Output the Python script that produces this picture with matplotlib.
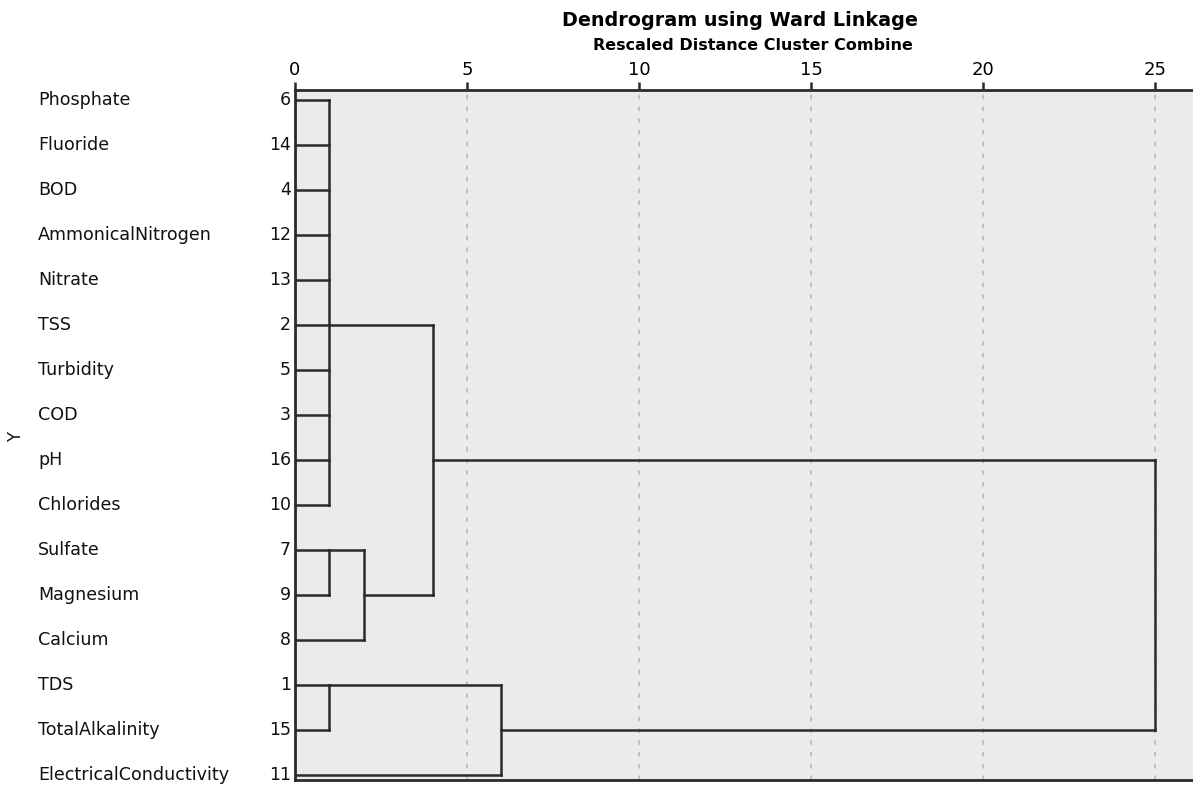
import matplotlib.pyplot as plt

# leaf order top to bottom
labels = ["Phosphate", "Fluoride", "BOD", "AmmonicalNitrogen", "Nitrate", "TSS",
          "Turbidity", "COD", "pH", "Chlorides", "Sulfate", "Magnesium", "Calcium",
          "TDS", "TotalAlkalinity", "ElectricalConductivity"]
case_ids = [6, 14, 4, 12, 13, 2, 5, 3, 16, 10, 7, 9, 8, 1, 15, 11]

# merges: (children, rescaled distance, row where the new cluster line leaves)
# children are leaf rows ("L#") or earlier merges ("M#")
merges = [
    (["L0", "L1", "L2", "L3", "L4", "L5", "L6", "L7", "L8", "L9"], 1.0, 5),
    (["L10", "L11"], 1.0, 10),
    (["M1", "L12"], 2.0, 11),
    (["M0", "M2"], 4.0, 8),
    (["L13", "L14"], 1.0, 13),
    (["M4", "L15"], 6.0, 14),
    (["M3", "M5"], 25.0, 11),
]


def main() -> None:
    fig = plt.figure(figsize=(11.93, 7.86), dpi=100)
    ax = fig.add_axes([295 / 1193, 6 / 786, 1 - 295 / 1193, 690 / 786])
    ax.set_facecolor("#ebebeb")

    lc = "#2b2b2b"
    lw = 1.8
    nodes = {}  # name -> (row, height)
    for i in range(len(labels)):
        nodes[f"L{i}"] = (i, 0.0)

    for k, (children, h, out_row) in enumerate(merges):
        rows = [nodes[c][0] for c in children]
        for c in children:
            r, ch = nodes[c]
            ax.plot([ch, h], [r, r], color=lc, lw=lw, solid_capstyle="projecting", zorder=3)
        ax.plot([h, h], [min(rows), max(rows)], color=lc, lw=lw, solid_capstyle="projecting", zorder=3)
        nodes[f"M{k}"] = (out_row, h)

    ax.set_xlim(0, 26.1)
    ax.set_ylim(15.11, -0.22)

    # top axis
    ax.xaxis.tick_top()
    ax.set_xticks([0, 5, 10, 15, 20, 25])
    ax.tick_params(axis="x", direction="out", length=6, width=1.8, colors=lc,
                   labelsize=13, pad=2)
    for t in ax.get_xticklabels():
        t.set_color("black")
    for x in [5, 10, 15, 20, 25]:
        ax.axvline(x, color="#bdbdbd", lw=1.3, ls=(0, (2.5, 4)), zorder=1)

    ax.set_yticks([])
    for s in ["left", "top", "bottom"]:
        ax.spines[s].set_color(lc)
        ax.spines[s].set_linewidth(2.0)
    ax.spines["right"].set_visible(False)

    # leaf labels and case numbers
    for i, (name, cid) in enumerate(zip(labels, case_ids)):
        ax.annotate(name, xy=(0, i), xycoords=("axes fraction", "data"),
                    xytext=(38 - 295, 0), textcoords="offset pixels",
                    ha="left", va="center", fontsize=12.6, color="#111111")
        ax.annotate(str(cid), xy=(0, i), xycoords=("axes fraction", "data"),
                    xytext=(-4, 0), textcoords="offset pixels",
                    ha="right", va="center", fontsize=12.5, color="#111111")

    fig.text(16 / 1193, 1 - 437 / 786, "Y", rotation=90, ha="center", va="center",
             fontsize=12, color="#111111")

    fig.text(740 / 1193, 1 - 21 / 786, "Dendrogram using Ward Linkage",
             ha="center", va="center", fontsize=13.8, fontweight="bold")
    fig.text(753 / 1193, 1 - 46 / 786, "Rescaled Distance Cluster Combine",
             ha="center", va="center", fontsize=11.5, fontweight="bold")

    fig.savefig("out.png", dpi=100, facecolor="white")


if __name__ == "__main__":
    main()
